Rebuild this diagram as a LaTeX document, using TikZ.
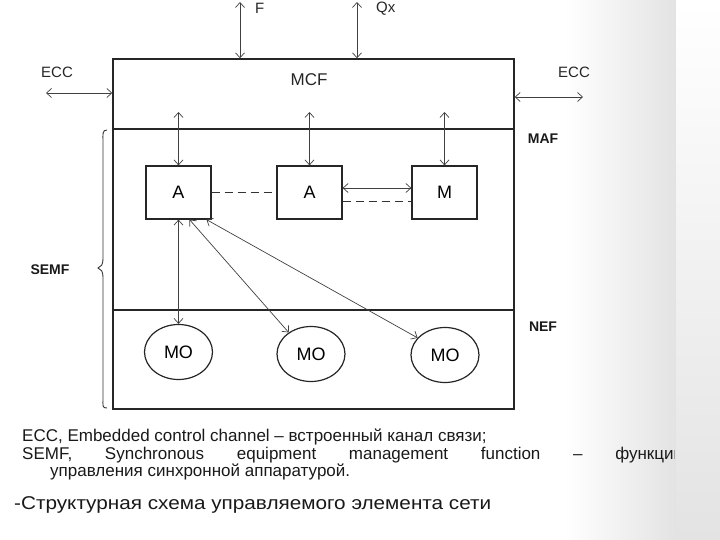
\documentclass[tikz,border=0pt]{standalone}
\usepackage{fontspec}
\setmainfont{Liberation Sans}
\newfontfamily\capfont[FakeStretch=1.12]{Liberation Sans}
\usetikzlibrary{arrows.meta,shapes.geometric}
\begin{document}
\begin{tikzpicture}[x=1pt,y=-1pt,
  region/.style={draw=black!85, line width=1.4pt, minimum width=401pt, inner sep=0pt},
  blk/.style={draw=black!85, line width=1.2pt, minimum width=65pt, minimum height=53pt, inner sep=0pt, font=\fontsize{18}{21}\selectfont},
  mo/.style={draw=black!85, line width=1.2pt, ellipse, minimum width=68pt, minimum height=55pt, inner sep=0pt, font=\fontsize{18}{21}\selectfont},
  lbl/.style={inner sep=0pt, text=black!85, font=\fontsize{15}{18}\selectfont},
  blbl/.style={inner sep=0pt, text=black!90, font=\bfseries\fontsize{14}{17}\selectfont},
  txt/.style={inner sep=0pt, text=black!90, font=\fontsize{17}{19}\selectfont},
  conn/.style={draw=black!75, line width=0.7pt, {Straight Barb[length=5pt,width=9pt]}-{Straight Barb[length=5pt,width=9pt]}},
  dsh/.style={draw=black!80, line width=1pt, dash pattern=on 8pt off 5pt}
]
\useasboundingbox (0,0) rectangle (720,540);
% scanner shadow on the right
\shade[left color=white, right color=black!11] (565,0) rectangle (676,540);
\shade[top color=white, bottom color=black!11] (676,0) rectangle (720,540);

% regions
\node[region, minimum height=70pt] (mcf) at (313.5,94) {};
\node[region, minimum height=181pt] (maf) at (313.5,219.5) {};
\node[region, minimum height=99pt] (nef) at (313.5,359.5) {};

% labels of regions
\node[lbl, font=\fontsize{17}{20}\selectfont] (mcft) at (309,80) {MCF};
\node[blbl] (maft) at (543,139) {MAF};
\node[blbl] (neft) at (543,327) {NEF};
\node[blbl] (semft) at (50,270) {SEMF};
\node[lbl] (eccl) at (57,72) {ECC};
\node[lbl] (eccr) at (574,72) {ECC};
\node[lbl, anchor=west] (ft) at (255,8.5) {F};
\node[lbl, anchor=west] (qxt) at (376,8.5) {Qx};

% blocks
\node[blk] (a1) at (178.5,192.5) {A};
\node[blk] (a2) at (309.5,192.5) {A};
\node[blk] (m) at (444.5,192.5) {M};
\node[mo] (mo1) at (178.5,352) {MO};
\node[mo] (mo2) at (311,354) {MO};
\node[mo] (mo3) at (445,355) {MO};

% free ends
\coordinate (fe) at (240,2);
\coordinate (qe) at (357,2);
\coordinate (el) at (46,93);
\coordinate (er) at (583,97);
\coordinate (t1) at (178.5,112);
\coordinate (t2) at (309.5,112);
\coordinate (t3) at (444.5,112);

% connectors
\draw[conn] (fe) -- (fe |- mcf.north);
\draw[conn] (qe) -- (qe |- mcf.north);
\draw[conn] (el) -- (el -| mcf.west);
\draw[conn] (er -| mcf.east) -- (er);
\draw[conn] (t1) -- (a1.north);
\draw[conn] (t2) -- (a2.north);
\draw[conn] (t3) -- (m.north);
\draw[dsh] (a1.east) -- (a2.west);
\draw[conn] ([yshift=4.5pt]a2.east) -- ([yshift=4.5pt]m.west);
\draw[dsh] ([yshift=-9.5pt]a2.east) -- ([yshift=-9.5pt]m.west);
\draw[conn] (a1.south) -- (mo1.north);
\draw[conn] ([xshift=11pt]a1.south) -- (mo2.136);
\draw[conn] ([xshift=28pt]a1.south) -- (mo3.148);

% brace of SEMF
\draw[draw=black!80, line width=0.9pt] (107,130) .. controls (102,130) and (103,134) .. (103,142) -- (103,258) .. controls (103,265) and (101,267) .. (98,268) .. controls (101,269) and (103,271) .. (103,278) -- (103,398) .. controls (103,406) and (102,408) .. (107,408);

% legend text
\node[txt, anchor=base west] (l1) at (22,441) {ECC, Embedded control channel – встроенный канал связи;};
\begin{scope}
\clip (0,440) rectangle (674,470);
\node[txt, anchor=base west] (l2) at (22,459) {\makebox[661pt][s]{SEMF, Synchronous equipment management function – функции}};
\end{scope}
\node[txt, anchor=base west] (l3) at (50,476) {управления синхронной аппаратурой.};
\node[txt, anchor=base west, font=\capfont\fontsize{18.5}{21}\selectfont] (cap) at (14,509) {-Структурная схема управляемого элемента сети};
\end{tikzpicture}
\end{document}
